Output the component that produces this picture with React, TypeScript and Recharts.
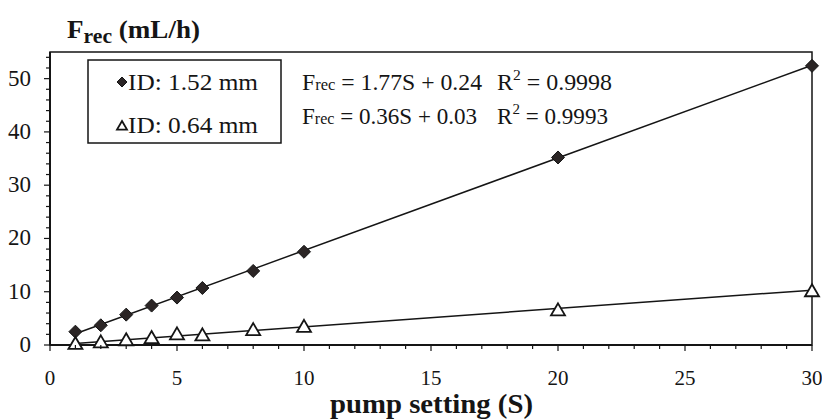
import React from "react";
import {
  ScatterChart,
  Scatter,
  XAxis,
  YAxis,
  ReferenceArea,
} from "recharts";

// pump settings (S) and recovered flow (mL/h)
const SETTINGS = [1, 2, 3, 4, 5, 6, 8, 10, 20, 30];
const FLOW_152 = [2.5, 3.7, 5.7, 7.4, 8.9, 10.7, 13.9, 17.5, 35.2, 52.4];
const FLOW_064 = [0.2, 0.5, 0.9, 1.3, 2.0, 1.8, 2.8, 3.4, 6.5, 10.1];

// fitted lines, end points
const FIT_X = [1, 30];
const FIT_152 = [2.1, 52.5];
const FIT_064 = [0.3, 10.3];

const X_TICKS = Array.from({ length: 31 }, (_, i) => i);
const Y_TICKS = Array.from({ length: 28 }, (_, i) => i * 2);

const SERIF = "Liberation Serif, serif";
const INK = "#151515";

const pts = (xs: number[], ys: number[]) => xs.map((x, i) => ({ x, y: ys[i] }));

function Diamond({ cx, cy, r = 6.5 }: any) {
  return (
    <path
      d={`M${cx},${cy - r} L${cx + r},${cy} L${cx},${cy + r} L${cx - r},${cy} Z`}
      fill="#2b2525"
      stroke={INK}
      strokeWidth={1}
    />
  );
}

function Triangle({ cx, cy, r = 7 }: any) {
  const h = r * 0.72;
  return (
    <path
      d={`M${cx},${cy - r} L${cx + r},${cy + h} L${cx - r},${cy + h} Z`}
      fill="#fff"
      stroke={INK}
      strokeWidth={1.8}
    />
  );
}

function XTick({ x, y, payload }: any) {
  const v = payload.value;
  const major = v % 5 === 0;
  return (
    <g>
      <line x1={x} x2={x} y1={y} y2={y + (major ? 6 : 4)} stroke={INK} strokeWidth={1.2} />
      {major && (
        <text x={x} y={y + 40} textAnchor="middle" fontSize={21} fontFamily={SERIF} fill={INK} stroke="none">
          {v}
        </text>
      )}
    </g>
  );
}

function YTick({ x, y, payload }: any) {
  const v = payload.value;
  const major = v % 10 === 0;
  return (
    <g>
      <line x1={x - (major ? 6 : 4)} x2={x} y1={y} y2={y} stroke={INK} strokeWidth={1.2} />
      {major && (
        <text x={x - 19} y={y + 7} textAnchor="end" fontSize={23} fontFamily={SERIF} fill={INK} stroke="none">
          {v}
        </text>
      )}
    </g>
  );
}

const noDot = () => <g />;

export default function App() {
  return (
    <div style={{ position: "absolute", left: 0, top: 0, width: 822, height: 419, background: "#fff" }}>
      <ScatterChart width={822} height={419} margin={{ top: 52, right: 10, bottom: 44, left: 10 }}>
        <XAxis
          type="number"
          dataKey="x"
          domain={[0, 30]}
          ticks={X_TICKS}
          interval={0}
          tick={<XTick />}
          tickLine={false}
          tickSize={0}
          tickMargin={0}
          height={30}
          axisLine={{ stroke: INK, strokeWidth: 2 }}
        />
        <YAxis
          type="number"
          dataKey="y"
          domain={[0, 55]}
          ticks={Y_TICKS}
          interval={0}
          tick={<YTick />}
          tickLine={false}
          tickSize={0}
          tickMargin={0}
          width={40}
          axisLine={{ stroke: INK, strokeWidth: 2 }}
        />
        <ReferenceArea x1={0} x2={30} y1={0} y2={55} fill="none" stroke={INK} strokeWidth={1.5} />
        <Scatter
          data={pts(FIT_X, FIT_152)}
          line={{ stroke: INK, strokeWidth: 1.5 }}
          shape={noDot}
          isAnimationActive={false}
        />
        <Scatter
          data={pts(FIT_X, FIT_064)}
          line={{ stroke: INK, strokeWidth: 1.5 }}
          shape={noDot}
          isAnimationActive={false}
        />
        <Scatter data={pts(SETTINGS, FLOW_152)} shape={<Diamond />} isAnimationActive={false} />
        <Scatter data={pts(SETTINGS, FLOW_064)} shape={<Triangle />} isAnimationActive={false} />
      </ScatterChart>

      <svg
        width={822}
        height={419}
        style={{ position: "absolute", left: 0, top: 0, pointerEvents: "none" }}
      >
        <g fontFamily={SERIF} fill={INK}>
          {/* axis titles */}
          <text x={67} y={38} fontWeight="bold" fontSize={25} textLength={133} lengthAdjust="spacingAndGlyphs">
            F<tspan fontSize={20} dy={5}>rec</tspan>
            <tspan dy={-5}> (mL/h)</tspan>
          </text>
          <text x={330} y={413} fontWeight="bold" fontSize={28} textLength={203} lengthAdjust="spacingAndGlyphs">
            pump setting (S)
          </text>

          {/* legend */}
          <rect x={88} y={60} width={193} height={83} fill="#fff" stroke={INK} strokeWidth={1.5} />
          <Diamond cx={122} cy={82} r={5} />
          <text x={128} y={90} fontSize={24} textLength={130} lengthAdjust="spacingAndGlyphs">
            ID: 1.52 mm
          </text>
          <Triangle cx={122} cy={126} r={5} />
          <text x={128} y={133} fontSize={24} textLength={130} lengthAdjust="spacingAndGlyphs">
            ID: 0.64 mm
          </text>

          {/* regression equations */}
          <text x={302} y={90} fontSize={23} textLength={180} lengthAdjust="spacingAndGlyphs">
            F<tspan fontSize={16}>rec</tspan> = 1.77S + 0.24
          </text>
          <text x={497} y={90} fontSize={23} textLength={115} lengthAdjust="spacingAndGlyphs">
            R<tspan fontSize={15} dy={-10}>2</tspan>
            <tspan dy={10}> = 0.9998</tspan>
          </text>
          <text x={302} y={124} fontSize={23} textLength={175} lengthAdjust="spacingAndGlyphs">
            F<tspan fontSize={16}>rec</tspan> = 0.36S + 0.03
          </text>
          <text x={497} y={124} fontSize={23} textLength={111} lengthAdjust="spacingAndGlyphs">
            R<tspan fontSize={15} dy={-10}>2</tspan>
            <tspan dy={10}> = 0.9993</tspan>
          </text>
        </g>
      </svg>
    </div>
  );
}
